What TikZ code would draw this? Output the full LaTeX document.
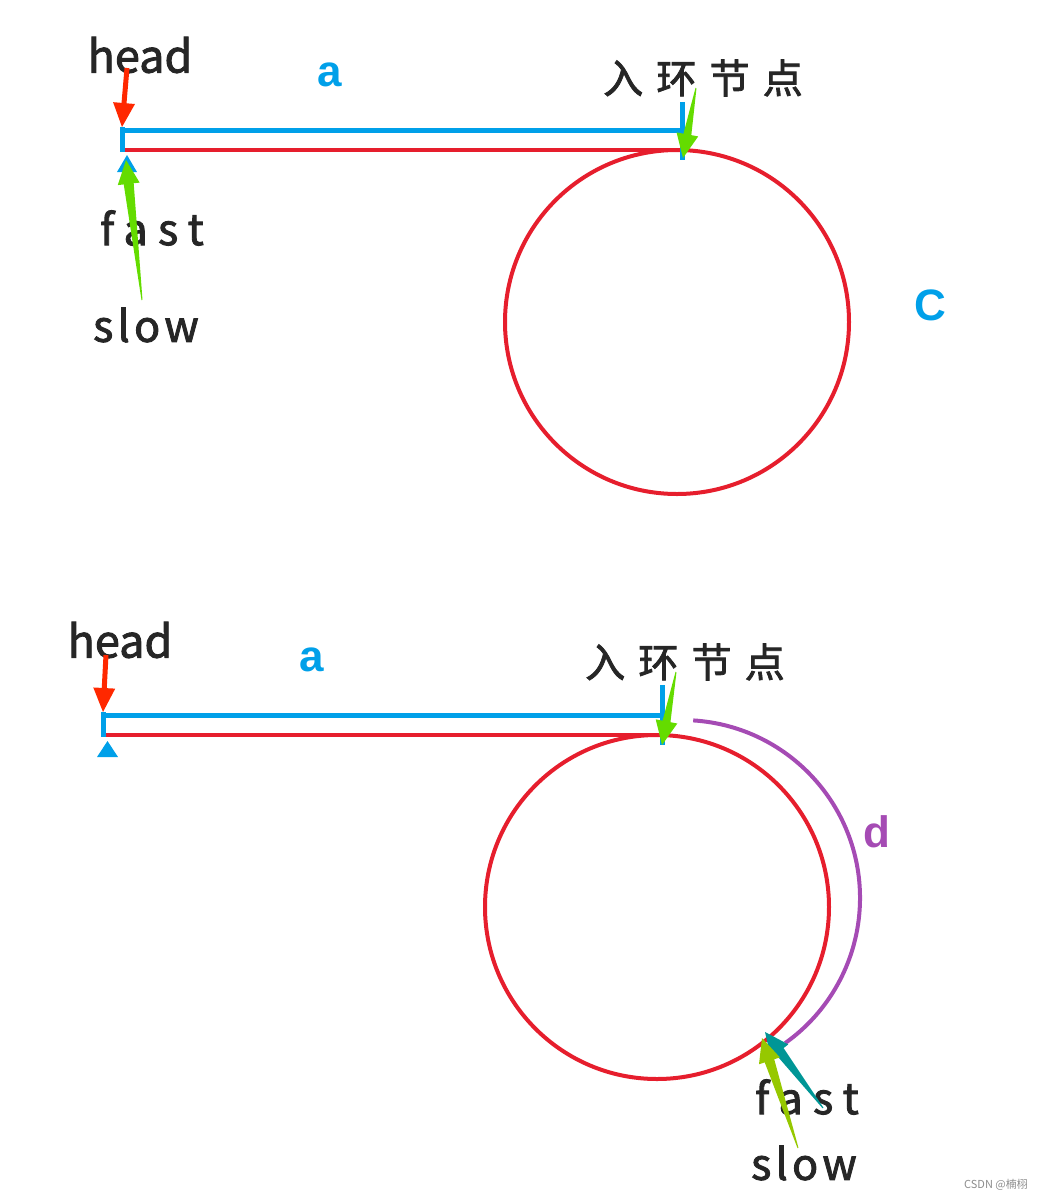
\documentclass[tikz,border=0pt]{standalone}
\usepackage{fontspec}
\usepackage{tikz}
\usetikzlibrary{calc}
\newfontfamily\cjkfont{Noto Sans CJK SC}
\newfontfamily\headfont[FakeBold=2]{Noto Sans CJK SC}
\newfontfamily\fastfont[LetterSpace=24, FakeBold=2]{Noto Sans CJK SC}
\newfontfamily\slowfont[LetterSpace=10, FakeBold=2]{Noto Sans CJK SC}
\newfontfamily\entryfont[LetterSpace=33, FakeBold=2]{Noto Sans CJK SC}
\newfontfamily\varfont{Liberation Sans}
\definecolor{lineblue}{RGB}{0,160,233}
\definecolor{linered}{RGB}{230,30,45}
\definecolor{headred}{RGB}{255,40,0}
\definecolor{entrygreen}{RGB}{100,220,0}
\definecolor{ringpurple}{RGB}{165,75,180}
\definecolor{fastteal}{RGB}{0,150,150}
\definecolor{slowgreen}{RGB}{150,200,0}

% filled pointer: colour, from, tip, tail half width, shaft half width
\newcommand{\pointer}[5]{%
  \coordinate (pb) at ($(#3)!24pt!(#2)$);
  \fill[#1] ($(#2)!#4!90:(#3)$) -- ($(pb)!#5!-90:(#2)$) -- ($(pb)!11pt!-90:(#2)$) -- (#3)
    -- ($(pb)!11pt!90:(#2)$) -- ($(pb)!#5!90:(#2)$) -- ($(#2)!#4!-90:(#3)$) -- cycle;}

\begin{document}
\begin{tikzpicture}[x=1pt, y=1pt,
    fastword/.style={font=\fastfont\fontsize{43}{48}\selectfont, text=black!85, inner sep=0pt},
    slowword/.style={font=\slowfont\fontsize{43}{48}\selectfont, text=black!85, inner sep=0pt},
    headword/.style={font=\headfont\fontsize{45}{50}\selectfont, text=black!85, inner sep=0pt},
    entry/.style={font=\entryfont\fontsize{40}{44}\selectfont, text=black!85, inner sep=0pt},
    var/.style={font=\varfont\bfseries\fontsize{44}{48}\selectfont, inner sep=0pt},
    blueline/.style={draw=lineblue, line width=5pt},
    redline/.style={draw=linered, line width=4pt},
    ring/.style={draw=linered, line width=4pt}]
    \useasboundingbox (0,0) rectangle (1046,-1200);

    % upper picture
    \node[headword] (head1) at (140,-55) {head};
    \node[var, text=lineblue] (a1) at (330,-75) {a};
    \node[entry] (entry1) at (703,-78) {入环节点};
    \node[var, text=lineblue] (c1) at (930,-305) {C};
    \node[fastword] (fast1) at (152,-228) {fast};
    \node[slowword] (slow1) at (146,-325) {slow};

    \coordinate (start1) at (122,-130);
    \coordinate (join1) at (682,-130);
    \coordinate (rstart1) at (124,-150);
    \coordinate (rend1) at (677,-150);
    \draw[redline] (rstart1) -- (rend1);
    \draw[ring] (677,-322) circle[radius=172];
    \draw[blueline] (start1) -- (join1);
    \draw[blueline] (122,-127) -- (122,-152);
    \draw[blueline] (682,-102) -- (682,-160);
    \fill[lineblue] (117,-172) -- (137,-172) -- (127,-155) -- cycle;

    \coordinate (hfrom1) at (127,-68);
    \coordinate (htip1) at (122,-127);
    \pointer{headred}{hfrom1}{htip1}{2.5pt}{2.5pt}
    \coordinate (sfrom1) at (142,-300);
    \coordinate (stip1) at (126,-160);
    \pointer{entrygreen}{sfrom1}{stip1}{0.5pt}{5pt}
    \coordinate (efrom1) at (696,-88);
    \coordinate (etip1) at (683,-158);
    \pointer{entrygreen}{efrom1}{etip1}{0.5pt}{4pt}

    % lower picture
    \node[headword] (head2) at (120,-640) {head};
    \node[var, text=lineblue] (a2) at (312,-660) {a};
    \node[entry] (entry2) at (685,-662) {入环节点};
    \node[var, text=ringpurple] (d2) at (877,-832) {d};
    \node[fastword] (fast2) at (807,-1097) {fast};
    \node[slowword] (slow2) at (804,-1163) {slow};

    \coordinate (start2) at (103,-715);
    \coordinate (join2) at (662,-715);
    \coordinate (rstart2) at (105,-735);
    \coordinate (rend2) at (657,-735);
    \draw[redline] (rstart2) -- (rend2);
    \draw[ring] (657,-907) circle[radius=172];
    \draw[blueline] (start2) -- (join2);
    \draw[blueline] (103,-712) -- (103,-737);
    \draw[blueline] (662,-685) -- (662,-745);
    \fill[lineblue] (97,-757) -- (118,-757) -- (107.5,-741) -- cycle;
    \draw[draw=ringpurple, line width=4pt] (693.2,-720.4) arc[start angle=86.4, end angle=-54.6, radius=178];

    \coordinate (hfrom2) at (106,-655);
    \coordinate (htip2) at (103,-712);
    \pointer{headred}{hfrom2}{htip2}{2.5pt}{2.5pt}
    \coordinate (efrom2) at (676,-672);
    \coordinate (etip2) at (662,-745);
    \pointer{entrygreen}{efrom2}{etip2}{0.5pt}{4pt}
    \coordinate (ffrom2) at (823,-1108);
    \coordinate (ftip2) at (765,-1032);
    \pointer{fastteal}{ffrom2}{ftip2}{0.5pt}{5pt}
    \coordinate (lfrom2) at (798,-1148);
    \coordinate (ltip2) at (762,-1038);
    \pointer{slowgreen}{lfrom2}{ltip2}{0.5pt}{5pt}

    \node[font=\cjkfont\fontsize{11}{12}\selectfont, text=black!45] (mark) at (996,-1185) {CSDN @楠栩};
\end{tikzpicture}
\end{document}
